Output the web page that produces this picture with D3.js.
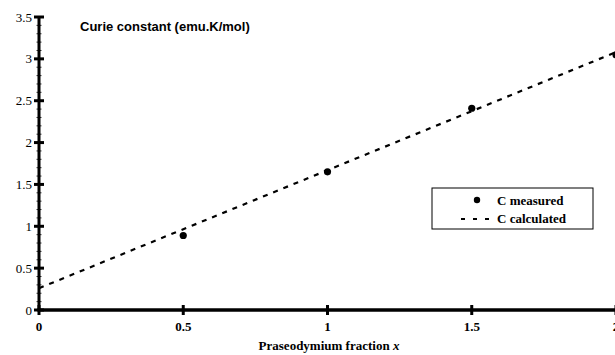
<!DOCTYPE html>
<html>
<head>
<meta charset="utf-8">
<script src="https://cdn.jsdelivr.net/npm/d3@7"></script>
<style>
  html, body { margin: 0; padding: 0; background: #fff; }
  svg { display: block; }
</style>
</head>
<body>
<svg id="chart" width="615" height="355"></svg>
<script>
// Measured Curie constants vs. praseodymium fraction
const fractionX = [0.5, 1.0, 1.5, 2.0];
const curieMeasured = [0.89, 1.65, 2.41, 3.05];
// Calculated line endpoints
const calcX = [0, 2];
const curieCalculated = [0.26, 3.08];
const xTicks = [0, 0.5, 1, 1.5, 2];
const yTicks = [0, 0.5, 1, 1.5, 2, 2.5, 3, 3.5];
const yMinorTicks = d3.range(0, 3.5001, 0.1);

const svg = d3.select("#chart");
const x = d3.scaleLinear().domain([0, 2]).range([39, 616]);
const y = d3.scaleLinear().domain([0, 3.5]).range([310, 17]);

const serif = "Liberation Serif, Times New Roman, serif";

// Calculated line (dashed)
svg.append("path")
  .datum(calcX.map((d, i) => [d, curieCalculated[i]]))
  .attr("d", d3.line().x(d => x(d[0])).y(d => y(d[1])))
  .attr("fill", "none")
  .attr("stroke", "#000")
  .attr("stroke-width", 2.2)
  .attr("stroke-dasharray", "5,6");

// Measured points
svg.selectAll("circle.pt")
  .data(fractionX.map((d, i) => [d, curieMeasured[i]]))
  .join("circle")
  .attr("class", "pt")
  .attr("cx", d => x(d[0]))
  .attr("cy", d => y(d[1]))
  .attr("r", 3.6)
  .attr("fill", "#000");

// Y axis
const yAxis = svg.append("g").attr("transform", `translate(${x(0)},0)`);
yAxis.append("line")
  .attr("y1", y(0)).attr("y2", y(3.5))
  .attr("stroke", "#000").attr("stroke-width", 3);
yAxis.selectAll("line.minor")
  .data(yMinorTicks)
  .join("line")
  .attr("class", "minor")
  .attr("x1", -2.5).attr("x2", 2.5)
  .attr("y1", d => y(d)).attr("y2", d => y(d))
  .attr("stroke", "#000").attr("stroke-width", 0.8);
yAxis.selectAll("line.major")
  .data(yTicks)
  .join("line")
  .attr("class", "major")
  .attr("x1", -5).attr("x2", 5)
  .attr("y1", d => y(d)).attr("y2", d => y(d))
  .attr("stroke", "#000").attr("stroke-width", 3);
yAxis.selectAll("text")
  .data(yTicks)
  .join("text")
  .attr("x", -7)
  .attr("y", d => y(d) + 4.5)
  .attr("text-anchor", "end")
  .attr("font-family", serif)
  .attr("font-size", 13)
  .text(d => d3.format("")(d));

// X axis
const xAxis = svg.append("g").attr("transform", `translate(0,${y(0)})`);
xAxis.append("line")
  .attr("x1", x(0) - 1.5).attr("x2", 615)
  .attr("stroke", "#000").attr("stroke-width", 3.5);
xAxis.selectAll("line.tick")
  .data(xTicks)
  .join("line")
  .attr("class", "tick")
  .attr("x1", d => x(d)).attr("x2", d => x(d))
  .attr("y1", -5).attr("y2", 5)
  .attr("stroke", "#000").attr("stroke-width", 3);
xAxis.selectAll("text")
  .data(xTicks)
  .join("text")
  .attr("x", d => x(d))
  .attr("y", 21)
  .attr("text-anchor", "middle")
  .attr("font-family", serif)
  .attr("font-weight", "bold")
  .attr("font-size", 13)
  .text(d => d3.format("")(d));

// X axis title
const xt = svg.append("text")
  .attr("x", 329).attr("y", 350)
  .attr("text-anchor", "middle")
  .attr("font-family", serif)
  .attr("font-weight", "bold")
  .attr("font-size", 13);
xt.append("tspan").text("Praseodymium fraction ");
xt.append("tspan").attr("font-style", "italic").text("x");

// Y axis title
svg.append("text")
  .attr("x", 80).attr("y", 31)
  .attr("font-family", "Liberation Sans, Arial, sans-serif")
  .attr("font-weight", "bold")
  .attr("font-size", 13)
  .text("Curie constant (emu.K/mol)");

// Legend
const lg = svg.append("g").attr("transform", "translate(432,188)");
lg.append("rect")
  .attr("width", 161).attr("height", 41)
  .attr("fill", "#fff").attr("stroke", "#000").attr("stroke-width", 1);
lg.append("circle").attr("cx", 45).attr("cy", 12).attr("r", 3.2).attr("fill", "#000");
lg.append("line")
  .attr("x1", 29).attr("x2", 57).attr("y1", 31).attr("y2", 31)
  .attr("stroke", "#000").attr("stroke-width", 2.2)
  .attr("stroke-dasharray", "4,8");
const legendItems = ["C measured", "C calculated"];
lg.selectAll("text.item")
  .data(legendItems)
  .join("text")
  .attr("class", "item")
  .attr("x", 65)
  .attr("y", (d, i) => 17 + i * 18)
  .attr("font-family", serif)
  .attr("font-weight", "bold")
  .attr("font-size", 13)
  .text(d => d);
</script>
</body>
</html>
